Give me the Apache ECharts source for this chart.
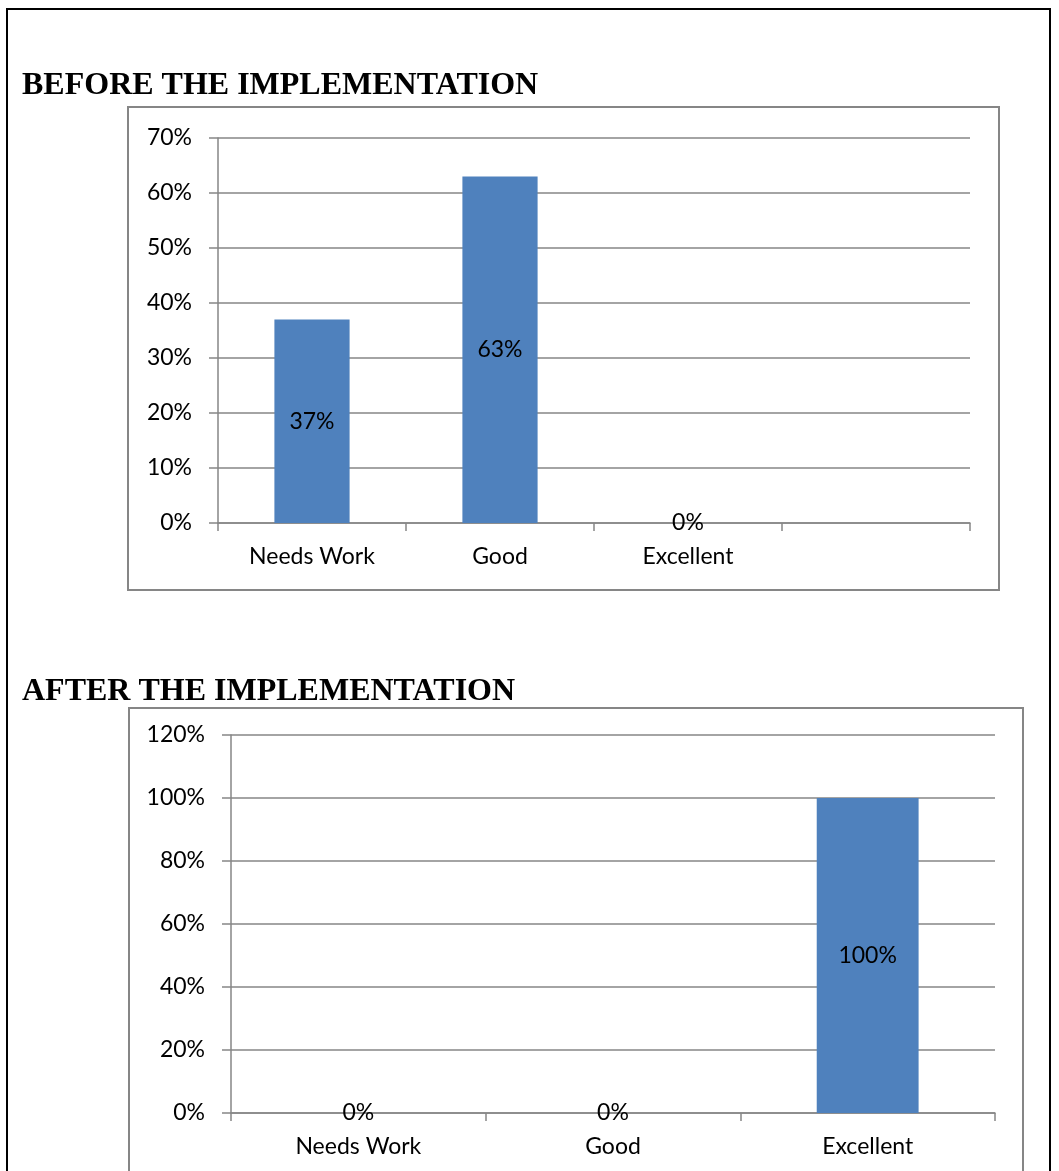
<!DOCTYPE html>
<html>
<head>
<meta charset="utf-8">
<script src="https://cdn.jsdelivr.net/npm/echarts@6/dist/echarts.min.js"></script>
<style>
html,body{margin:0;padding:0;background:#fff;}
#chart{width:1059px;height:1171px;}
</style>
</head>
<body>
<div id="chart"></div>
<script>
const titleBefore = 'BEFORE THE IMPLEMENTATION';
const titleAfter = 'AFTER THE IMPLEMENTATION';
const categoriesBefore = ['Needs Work', 'Good', 'Excellent', ''];
const valuesBefore = [0.37, 0.63, 0, null];
const categoriesAfter = ['Needs Work', 'Good', 'Excellent'];
const valuesAfter = [0, 0, 1.0];
const yBefore = {min: 0, max: 0.7, interval: 0.1};
const yAfter = {min: 0, max: 1.2, interval: 0.2};

const GRAY = '#868686';
const BAR = '#4F81BD';
const FONT = 'Lato';
const FS = 23;
const pct = v => Math.round(v * 100) + '%';

const chart = echarts.init(document.getElementById('chart'), null, {renderer: 'canvas'});

function xAxis(idx, cats) {
  return {
    type: 'category', gridIndex: idx, data: cats,
    axisLine: {show: true, lineStyle: {color: GRAY, width: 1.5}},
    axisTick: {show: true, length: 8, lineStyle: {color: GRAY, width: 1.5}},
    axisLabel: {color: '#000', fontFamily: FONT, fontSize: FS, margin: 22, interval: 0},
    splitLine: {show: false}
  };
}
function yAxis(idx, cfg) {
  return {
    type: 'value', gridIndex: idx, min: cfg.min, max: cfg.max, interval: cfg.interval,
    axisLine: {show: true, lineStyle: {color: GRAY, width: 1.5}},
    axisTick: {show: true, length: 9, lineStyle: {color: GRAY, width: 1.5}},
    axisLabel: {color: '#000', fontFamily: FONT, fontSize: FS, margin: 26, formatter: pct},
    splitLine: {show: true, lineStyle: {color: GRAY, width: 1.5}}
  };
}
function bars(idx, vals) {
  return {
    type: 'bar', xAxisIndex: idx, yAxisIndex: idx, data: vals,
    barWidth: '40%',
    itemStyle: {color: BAR},
    label: {show: true, position: 'inside', color: '#000', fontFamily: FONT, fontSize: FS,
      formatter: p => (p.value == null ? '' : pct(p.value))},
    emphasis: {disabled: true},
    animation: false
  };
}

chart.setOption({
  animation: false,
  graphic: [
    {type: 'rect', shape: {x: 7, y: 9, width: 1043, height: 1200}, style: {fill: 'none', stroke: '#000', lineWidth: 2}, silent: true},
    {type: 'rect', shape: {x: 128, y: 107, width: 871, height: 483}, style: {fill: 'none', stroke: GRAY, lineWidth: 2}, silent: true},
    {type: 'rect', shape: {x: 129, y: 708, width: 894, height: 500}, style: {fill: 'none', stroke: GRAY, lineWidth: 2}, silent: true},
    {type: 'text', x: 22, y: 86, style: {text: titleBefore, fill: '#000', font: 'bold 32px "Liberation Serif", "Times New Roman", serif', textVerticalAlign: 'middle'}, silent: true},
    {type: 'text', x: 22, y: 692, style: {text: titleAfter, fill: '#000', font: 'bold 32px "Liberation Serif", "Times New Roman", serif', textVerticalAlign: 'middle'}, silent: true}
  ],
  grid: [
    {left: 218, top: 138, width: 752, height: 385, containLabel: false},
    {left: 231, top: 735, width: 764, height: 378, containLabel: false}
  ],
  xAxis: [xAxis(0, categoriesBefore), xAxis(1, categoriesAfter)],
  yAxis: [yAxis(0, yBefore), yAxis(1, yAfter)],
  series: [bars(0, valuesBefore), bars(1, valuesAfter)]
});
</script>
</body>
</html>
